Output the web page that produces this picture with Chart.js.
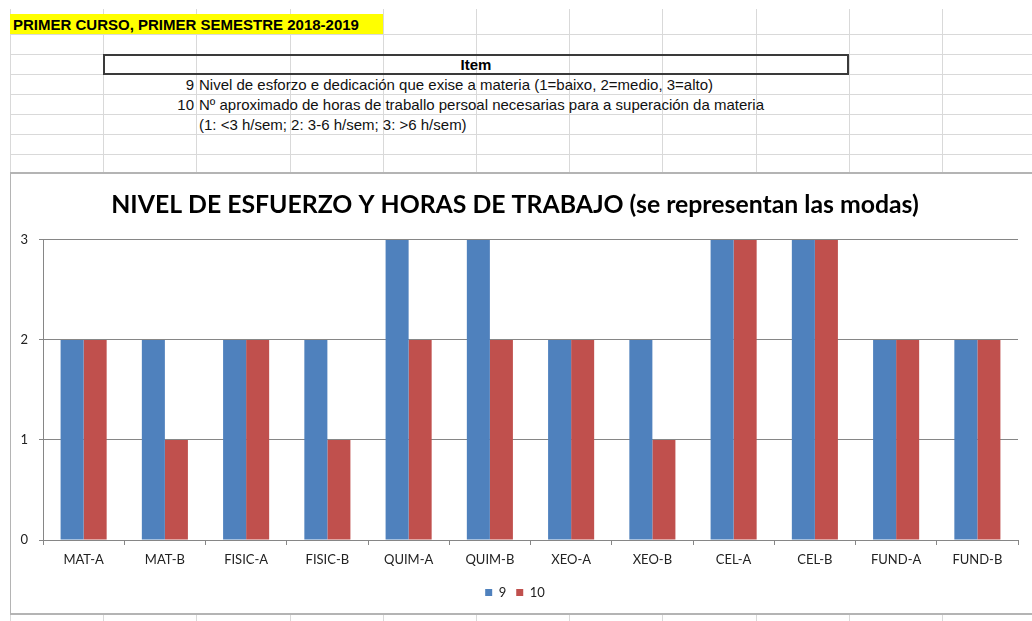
<!DOCTYPE html>
<html>
<head>
<meta charset="utf-8">
<script src="https://cdn.jsdelivr.net/npm/chart.js@4.4.0/dist/chart.umd.min.js"></script>
<style>
  body { margin: 0; background: #fff; width: 1032px; height: 621px; overflow: hidden; position: relative; font-family: "Liberation Sans", Arial, sans-serif; }
  .vl { position: absolute; width: 1px; background: #d9d9d9; }
  .hl { position: absolute; height: 1px; background: #d9d9d9; }
  .cell { position: absolute; font-size: 15px; color: #111; white-space: nowrap; line-height: 20px; }
  #hdr { position: absolute; left: 10px; top: 14px; width: 373px; height: 20px; background: #ffff00; font-weight: bold; font-size: 15px; line-height: 21px; padding-left: 3px; box-sizing: border-box; white-space: nowrap; }
  #itembox { position: absolute; left: 103px; top: 54px; width: 746px; height: 21px; border: 2px solid #3a3a3a; box-sizing: border-box; text-align: center; font-weight: bold; font-size: 15px; line-height: 17px; }
  #chartbox { position: absolute; left: 10px; top: 172px; width: 1030px; height: 443px; background: #fff; border-top: 2px solid #b4b4b4; border-left: 1px solid #b4b4b4; border-bottom: 2px solid #b4b4b4; box-sizing: border-box; }
  #wrap { position: absolute; left: 1px; top: 1px; width: 1021px; height: 439px; }
</style>
</head>
<body>
<div id="grid"></div>
<div id="hdr">PRIMER CURSO, PRIMER SEMESTRE 2018-2019</div>
<div id="itembox">Item</div>
<div class="cell" style="left:103px; top:75px; width:91px; text-align:right;">9</div>
<div class="cell" style="left:199px; top:75px;">Nivel de esforzo e dedicación que exise a materia (1=baixo, 2=medio, 3=alto)</div>
<div class="cell" style="left:103px; top:95px; width:91px; text-align:right;">10</div>
<div class="cell" style="left:199px; top:95px;">Nº aproximado de horas de traballo persoal necesarias para a superación da materia</div>
<div class="cell" style="left:199px; top:115px;">(1: &lt;3 h/sem; 2: 3-6 h/sem; 3: &gt;6 h/sem)</div>
<div id="chartbox"><div id="wrap"><canvas id="myChart"></canvas></div></div>
<script>
// spreadsheet background lines
var grid = document.getElementById('grid')
var colLines = [10, 103, 196, 290, 383, 476, 569, 662, 756, 849, 942]
var rowLines = [34, 54, 74, 94, 114, 134, 154]
colLines.forEach(x => {
    grid.innerHTML += `<div class="vl" style="left:${x}px; top:9px; height:612px;"></div>`
})
rowLines.forEach(y => {
    grid.innerHTML += `<div class="hl" style="left:10px; top:${y}px; width:1022px;"></div>`
})

var categories = ['MAT-A', 'MAT-B', 'FISIC-A', 'FISIC-B', 'QUIM-A', 'QUIM-B', 'XEO-A', 'XEO-B', 'CEL-A', 'CEL-B', 'FUND-A', 'FUND-B'];
var item9 = [2, 2, 2, 2, 3, 3, 2, 2, 3, 3, 2, 2];
var item10 = [2, 1, 2, 1, 2, 2, 2, 1, 3, 3, 2, 2];
var yTicks = [0, 1, 2, 3];

var axisColor = '#868686';
var labelFont = { family: 'Lato, "Open Sans", sans-serif', size: 13 };

var ctx = document.getElementById('myChart').getContext('2d');
var chart = new Chart(ctx, {
    type: 'bar',
    data: {
        labels: categories,
        datasets: [
            { label: '9', data: item9, backgroundColor: '#4F81BD' },
            { label: '10', data: item10, backgroundColor: '#C0504D' },
        ],
    },
    options: {
        responsive: true,
        maintainAspectRatio: false,
        animation: false,
        layout: { padding: { left: 0, right: 15, top: 0, bottom: 5 } },
        datasets: { bar: { barPercentage: 1, categoryPercentage: 0.567 } },
        plugins: {
            title: {
                display: true,
                text: 'NIVEL DE ESFUERZO Y HORAS DE TRABAJO (se representan las modas)',
                color: '#000',
                font: { family: 'Lato, "Open Sans", sans-serif', size: 24.8, weight: 'bold' },
                padding: { top: 15.6, bottom: 19.6 },
            },
            legend: {
                position: 'bottom',
                labels: {
                    boxWidth: 7,
                    boxHeight: 7,
                    padding: 10,
                    color: '#222',
                    font: labelFont,
                },
            },
            tooltip: { enabled: false },
        },
        scales: {
            x: {
                grid: { display: true, offset: true, drawOnChartArea: false, drawTicks: true, tickLength: 5, color: axisColor },
                border: { display: true, color: axisColor },
                ticks: { color: '#222', font: labelFont, padding: 7, maxRotation: 0, autoSkip: false },
                afterFit: (scale) => { scale.height = 36; },
            },
            y: {
                min: 0,
                max: 3,
                afterBuildTicks: (scale) => { scale.ticks = yTicks.map(v => ({ value: v })); },
                grid: { color: axisColor, tickLength: 4 },
                border: { display: true, color: axisColor },
                ticks: { color: '#222', font: labelFont, padding: 11 },
                afterFit: (scale) => { scale.width = 31; },
            },
        },
    },
});
</script>
</body>
</html>
